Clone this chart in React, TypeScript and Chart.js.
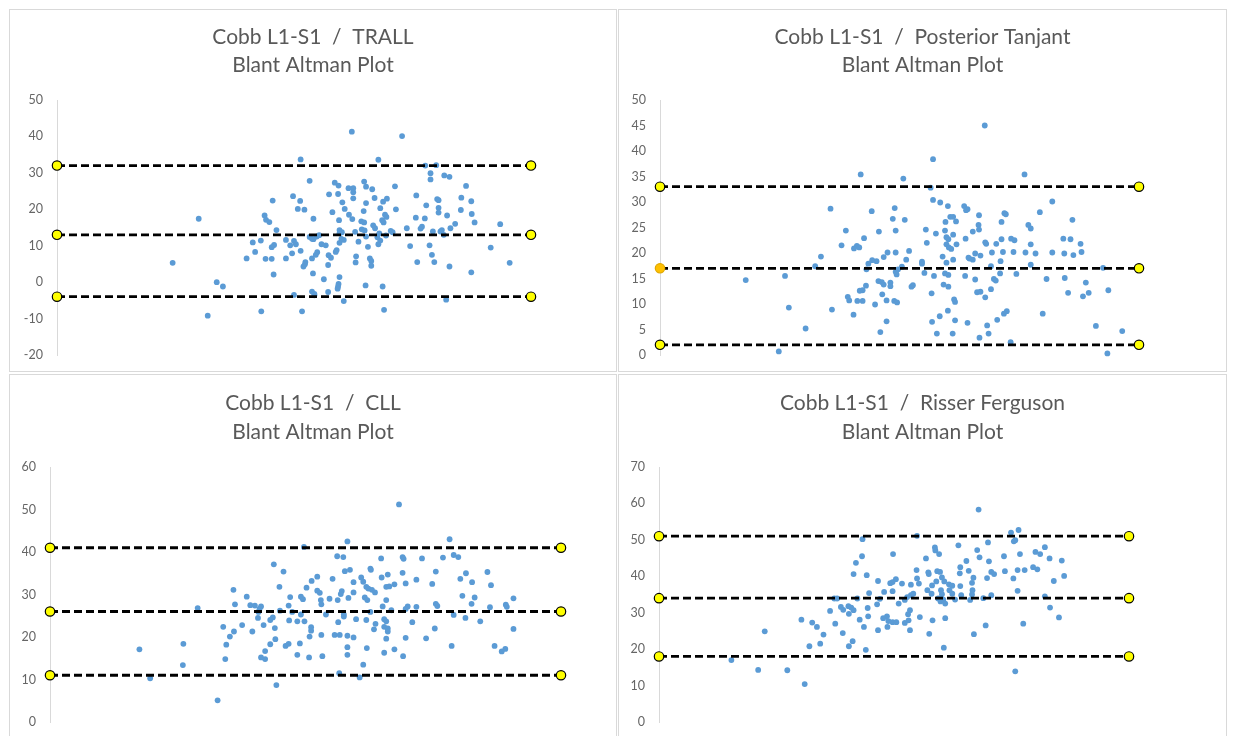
import React, { useEffect, useRef } from "react";
import { Chart, registerables } from "chart.js";

Chart.register(...registerables);

// ---------- DATA ----------
const trallPoints: [number, number][] = [
  [62.2,41.3],[72.8,40.1],[51.4,33.7],[67.8,33.6],[77.7,32.0],[80.0,32.1],[78.8,29.9],[78.8,28.2],[81.7,29.3],[82.8,28.9],
  [53.3,27.8],[58.6,27.3],[59.4,26.5],[64.8,27.6],[65.2,26.2],[61.5,25.8],[62.5,25.8],[62.5,24.7],[62.5,23.0],[66.5,25.5],
  [71.3,26.3],[86.3,26.4],[75.8,23.8],[49.8,23.6],[57.4,24.1],[59.3,24.2],[67.0,23.1],[69.6,22.9],[68.8,22.1],[80.2,22.8],
  [80.5,22.5],[85.3,23.2],[87.4,22.2],[45.5,22.4],[51.3,22.3],[60.2,21.9],[65.2,21.7],[77.9,21.1],[50.8,20.1],[52.2,19.9],
  [60.7,20.1],[64.7,19.5],[68.2,20.3],[71.5,20.0],[85.2,19.8],[80.5,20.4],[80.5,19.1],[58.1,19.2],[61.6,18.5],[43.8,18.3],
  [69.2,18.5],[69.5,17.9],[82.3,18.3],[87.5,18.7],[29.9,17.4],[44.1,17.1],[44.8,16.5],[54.1,17.4],[59.5,17.0],[62.3,17.3],
  [75.7,17.7],[77.6,17.5],[64.2,16.7],[64.8,16.4],[68.6,17.0],[68.9,16.4],[88.1,16.4],[93.5,15.9],[84.0,16.0],[66.7,15.6],
  [67.1,14.8],[73.8,14.8],[76.7,14.7],[77.0,15.2],[81.2,14.3],[80.9,13.9],[83.0,14.8],[46.3,14.3],[59.6,14.3],[60.1,13.7],
  [59.6,13.4],[64.3,14.5],[64.9,14.2],[70.4,14.1],[70.8,13.7],[62.9,13.8],[68.0,13.4],[79.3,13.9],[81.6,13.0],[69.4,12.8],
  [53.3,12.4],[54.1,11.8],[54.8,12.5],[53.8,11.9],[55.3,12.9],[65.2,12.5],[67.6,12.3],[68.2,11.4],[60.5,11.6],[59.6,10.8],
  [60.0,11.9],[48.3,11.6],[41.3,10.9],[43.0,11.4],[50.0,11.3],[50.4,10.4],[49.2,10.1],[67.8,10.4],[63.6,11.1],[56.7,10.1],
  [55.8,10.4],[45.8,10.2],[45.3,9.6],[78.6,10.1],[74.5,9.9],[65.6,9.7],[91.5,9.5],[41.8,8.3],[51.4,8.6],[49.6,7.9],
  [54.9,8.2],[54.6,7.5],[58.8,8.3],[59.0,8.8],[79.1,7.5],[53.8,6.5],[57.3,7.4],[57.8,6.7],[63.1,7.1],[66.0,6.5],
  [66.3,5.8],[40.0,6.5],[44.0,6.4],[45.3,6.4],[48.3,6.5],[79.6,5.5],[63.0,5.4],[76.0,5.5],[52.4,5.5],[52.3,4.9],
  [95.5,5.3],[24.4,5.3],[57.2,4.7],[66.3,4.5],[82.8,4.3],[52.0,4.3],[45.7,2.1],[54.0,2.4],[87.4,2.7],[59.6,1.4],
  [56.3,0.8],[33.7,0.0],[35.0,-1.2],[59.4,-0.5],[59.3,-1.2],[59.2,-1.8],[65.1,-0.9],[68.7,-1.2],[53.8,-2.6],[54.3,-3.2],
  [57.2,-2.7],[50.0,-3.5],[54.3,-3.6],[60.5,-5.2],[82.1,-4.8],[43.1,-8.0],[51.7,-8.0],[69.0,-7.6],[31.8,-9.2]
];

const tanjantPoints: [number, number][] = [
  [67.8,45.0],[57.0,38.4],[41.9,35.4],[76.1,35.4],[50.8,34.6],[56.5,32.8],[57.0,30.4],[58.5,29.9],[81.9,30.1],[35.6,28.7],
  [49.0,28.8],[44.2,28.2],[60.1,29.2],[63.5,29.2],[64.2,28.6],[63.9,28.4],[79.3,28.0],[71.9,27.8],[72.2,27.6],[66.6,27.4],
  [60.6,27.1],[61.2,27.1],[61.8,26.2],[59.6,26.1],[48.6,26.7],[51.1,26.5],[86.1,26.5],[71.3,26.1],[76.9,25.5],[77.4,24.8],
  [66.5,25.5],[66.6,24.6],[38.8,24.4],[45.7,24.2],[49.2,24.4],[55.5,24.6],[59.5,24.4],[65.3,24.2],[57.6,23.8],[61.2,23.6],
  [59.8,23.1],[60.2,22.7],[42.6,22.9],[63.8,22.8],[71.3,22.7],[73.3,22.8],[74.0,22.5],[84.2,22.8],[85.7,22.7],[67.9,22.1],
  [68.1,21.8],[37.9,21.5],[41.1,21.4],[41.6,21.1],[40.5,20.9],[55.7,22.0],[59.8,21.7],[60.3,21.1],[60.8,20.8],[61.9,21.7],
  [70.2,21.8],[77.4,21.7],[87.8,21.8],[47.5,20.1],[49.2,20.1],[52.0,20.4],[69.3,20.1],[71.6,20.2],[73.8,20.2],[76.3,20.1],
  [78.4,19.9],[81.9,20.1],[84.4,19.9],[86.3,19.6],[88.0,20.2],[33.6,19.3],[46.7,19.2],[59.0,19.3],[64.6,18.9],[65.3,18.7],
  [64.4,19.1],[65.8,19.9],[66.9,19.5],[44.3,18.6],[45.2,18.4],[51.4,18.7],[54.7,18.3],[54.7,17.9],[61.2,18.7],[71.1,18.4],
  [77.4,17.7],[43.5,17.9],[43.1,16.8],[32.4,17.4],[50.5,17.3],[49.7,16.8],[59.8,18.1],[69.1,17.4],[92.5,17.1],[49.2,16.3],
  [49.4,15.8],[74.4,15.9],[63.7,15.5],[57.2,15.5],[55.2,16.1],[59.5,16.0],[60.2,15.7],[71.0,16.0],[26.1,15.5],[17.9,14.7],
  [65.8,14.8],[69.7,14.9],[70.1,14.6],[80.7,14.9],[84.5,15.1],[45.6,14.5],[46.3,14.3],[46.7,13.8],[48.1,14.2],[48.1,13.5],
  [88.9,14.2],[43.0,13.6],[42.3,12.7],[41.7,12.6],[52.5,13.4],[52.8,13.7],[59.2,13.8],[60.2,13.4],[93.6,12.7],[89.5,12.2],
  [66.2,12.3],[66.9,12.4],[69.1,12.9],[85.2,12.2],[56.7,12.1],[46.4,11.9],[39.2,11.4],[39.5,10.7],[41.2,10.6],[42.3,10.6],
  [47.3,10.7],[48.9,10.6],[49.5,10.3],[67.9,11.3],[88.3,11.5],[44.9,9.9],[61.4,10.9],[61.6,10.4],[26.9,9.3],[35.9,8.9],
  [60.1,8.7],[72.4,8.6],[71.8,8.1],[79.9,8.1],[40.4,7.9],[58.4,7.6],[70.4,6.9],[47.3,6.6],[56.8,6.5],[61.6,6.8],
  [64.2,6.3],[68.3,5.8],[91.0,5.7],[30.4,5.2],[96.5,4.7],[46.0,4.5],[57.8,4.2],[61.1,4.2],[68.6,4.2],[66.7,3.4],
  [73.2,2.5],[24.8,0.7],[93.4,0.3]
];

const cllPoints: [number, number][] = [
  [68.3,51.2],[78.2,43.0],[58.2,42.5],[49.7,41.2],[56.2,39.0],[57.4,38.8],[64.8,38.5],[69.0,38.8],[69.2,38.4],[72.8,38.5],
  [76.9,38.7],[79.0,39.3],[79.9,38.8],[43.8,37.1],[62.7,36.1],[62.8,35.8],[45.7,35.4],[57.7,35.5],[58.7,35.8],[69.0,35.1],
  [75.5,35.4],[81.4,35.0],[85.6,35.3],[66.1,34.7],[52.3,34.2],[60.9,34.0],[55.3,33.7],[80.3,33.7],[64.9,34.0],[51.2,33.2],
  [59.4,32.9],[61.3,33.0],[71.7,33.5],[69.6,32.6],[82.6,32.9],[74.8,32.5],[67.4,32.4],[66.4,31.9],[65.8,31.8],[86.3,32.2],
  [61.9,31.8],[62.3,31.4],[50.2,31.6],[44.9,31.8],[35.9,31.1],[63.0,31.1],[63.6,30.5],[52.3,30.9],[52.8,30.4],[57.1,30.8],
  [56.9,30.1],[59.4,30.5],[38.5,29.5],[47.0,29.4],[49.1,29.5],[49.5,28.9],[61.6,29.3],[62.1,28.7],[80.7,29.7],[83.1,29.3],
  [90.7,29.1],[53.0,28.7],[54.7,29.0],[56.3,28.7],[58.4,29.2],[65.8,28.7],[36.2,27.7],[39.2,27.5],[40.1,27.4],[41.3,27.2],
  [41.0,26.6],[46.7,27.4],[53.1,27.7],[75.5,27.8],[75.8,27.3],[70.0,27.2],[69.6,26.6],[71.7,27.1],[82.5,27.8],[86.1,27.0],
  [89.2,27.6],[89.4,27.1],[65.1,27.2],[28.9,26.8],[40.8,25.9],[45.0,26.2],[47.4,25.9],[49.1,25.3],[66.8,26.3],[57.5,25.3],
  [57.5,24.8],[62.7,25.9],[79.0,25.2],[54.0,25.3],[40.7,24.5],[43.6,24.6],[43.1,24.0],[61.9,24.0],[65.4,24.2],[65.8,23.7],
  [59.9,24.2],[81.3,24.5],[46.8,23.9],[48.4,23.7],[49.8,23.7],[70.9,23.5],[84.2,23.7],[56.4,23.5],[41.8,22.8],[37.6,22.8],
  [44.0,22.1],[33.9,22.4],[63.7,23.1],[65.4,22.4],[66.1,22.0],[66.1,21.3],[51.1,22.3],[51.1,21.5],[75.3,22.0],[90.7,21.9],
  [63.4,21.8],[36.0,21.3],[39.6,21.3],[53.1,20.5],[55.7,20.5],[56.7,20.5],[58.2,20.3],[50.8,20.1],[59.4,19.9],[35.2,20.1],
  [69.6,19.8],[73.6,19.7],[65.8,19.6],[44.1,19.5],[26.1,18.4],[34.5,18.2],[43.1,18.3],[48.9,18.5],[46.7,18.4],[46.1,17.9],
  [78.6,17.9],[87.0,17.9],[58.2,17.6],[62.0,17.4],[17.5,17.1],[67.4,17.1],[89.1,17.2],[88.4,16.6],[42.1,16.7],[65.4,16.3],
  [48.4,15.8],[53.3,15.5],[58.2,15.8],[69.1,15.5],[50.7,15.2],[41.3,15.2],[42.1,14.8],[34.3,14.8],[61.3,13.5],[26.0,13.4],
  [56.6,11.5],[60.6,10.5],[19.6,10.3],[44.3,8.7],[32.8,5.1]
];

const risserPoints: [number, number][] = [
  [68.0,58.3],[76.5,52.7],[74.9,52.0],[75.8,49.9],[75.5,49.6],[54.9,51.1],[43.3,50.2],[70.0,49.3],[63.7,48.5],[67.7,47.2],
  [58.7,47.9],[58.8,47.1],[82.1,48.0],[80.1,46.7],[81.1,46.1],[83.1,44.9],[49.8,46.1],[59.6,46.1],[76.8,46.1],[43.2,45.5],
  [73.4,45.5],[68.2,45.2],[56.8,44.9],[85.7,44.3],[65.4,44.2],[70.2,44.1],[41.9,43.7],[64.1,42.5],[79.6,42.5],[80.5,41.9],
  [77.8,41.7],[76.3,41.7],[65.9,41.5],[54.8,41.7],[57.3,41.1],[57.4,40.6],[59.2,41.4],[59.8,41.2],[73.6,41.4],[64.0,40.8],
  [70.7,41.2],[71.3,40.6],[41.4,40.6],[86.2,40.1],[75.4,39.4],[69.8,39.5],[66.9,39.6],[44.2,40.3],[54.9,39.4],[60.2,39.7],
  [60.7,38.6],[50.4,39.2],[46.6,38.7],[84.0,38.7],[59.0,38.6],[66.6,38.2],[49.2,38.1],[49.7,38.4],[51.7,38.0],[53.6,37.7],
  [55.3,38.0],[61.7,37.8],[62.4,37.4],[58.1,37.5],[64.1,37.3],[47.9,35.7],[44.7,35.4],[49.7,35.9],[76.3,36.0],[54.1,35.2],
  [53.6,34.8],[57.1,36.2],[58.0,35.2],[60.0,36.2],[60.2,35.1],[61.8,36.2],[62.4,35.2],[66.7,36.2],[66.6,35.0],[70.7,34.8],
  [64.3,34.8],[69.0,34.0],[82.1,34.5],[37.3,33.9],[37.9,33.9],[42.2,33.9],[47.0,33.8],[52.8,34.3],[52.3,33.5],[59.4,33.9],
  [59.9,33.1],[60.5,33.6],[60.9,32.5],[63.0,33.6],[66.2,33.5],[46.4,32.3],[51.0,32.5],[38.7,31.6],[39.2,30.8],[40.3,31.8],
  [40.9,31.4],[41.4,30.7],[40.4,29.7],[44.4,31.3],[36.4,30.5],[53.4,30.7],[53.0,29.6],[83.2,31.4],[55.5,28.8],[48.5,29.0],
  [47.7,28.5],[44.5,29.0],[42.7,28.1],[60.9,28.5],[85.1,28.7],[30.3,28.1],[48.8,27.7],[49.7,27.4],[50.5,27.4],[52.3,27.2],
  [53.1,27.9],[58.2,27.9],[32.6,27.3],[33.6,26.1],[37.5,27.0],[77.5,27.0],[69.5,26.5],[48.6,26.1],[43.6,26.1],[35.0,24.0],
  [22.5,24.9],[39.1,24.4],[46.6,25.2],[53.4,25.2],[57.5,24.2],[67.0,24.1],[41.2,22.2],[34.3,21.5],[32.0,20.8],[40.4,20.8],
  [44.0,19.8],[60.6,20.4],[15.4,17.0],[21.1,14.3],[27.3,14.2],[75.8,13.9],[31.0,10.4]
];

// limits of agreement: upper, mean, lower
const trallLimits = [32, 13, -4];
const tanjantLimits = [33, 17, 2];
const cllLimits = [41, 26, 11];
const risserLimits = [51, 34, 18];

// y-axis ranges: [min, max, step]
const trallAxis = [-20, 50, 10];
const tanjantAxis = [0, 50, 5];
const cllAxis = [0, 60, 10];
const risserAxis = [0, 70, 10];

const titles = [
  "Cobb L1-S1  /  TRALL",
  "Cobb L1-S1  /  Posterior Tanjant",
  "Cobb L1-S1  /  CLL",
  "Cobb L1-S1  /  Risser Ferguson",
];
const subtitle = "Blant Altman Plot";
const lineStart = 0;
const lineEnd = 100;

// ---------- LAYOUT (page pixels) ----------
type Spec = {
  title: string;
  points: [number, number][];
  limits: number[];
  axis: number[];
  box: { left: number; top: number; width: number; height: number };
  axisX: number;
  chartTop: number;
  chartBottom: number;
  lineEndX: number;
  titleY: number;
  accent?: number;
};

const specs: Spec[] = [
  { title: titles[0], points: trallPoints, limits: trallLimits, axis: trallAxis,
    box: { left: 9, top: 9, width: 608, height: 363 }, axisX: 57, chartTop: 100, chartBottom: 355, lineEndX: 531, titleY: 37 },
  { title: titles[1], points: tanjantPoints, limits: tanjantLimits, axis: tanjantAxis,
    box: { left: 618, top: 9, width: 609, height: 363 }, axisX: 660, chartTop: 100, chartBottom: 355, lineEndX: 1139, titleY: 37, accent: 1 },
  { title: titles[2], points: cllPoints, limits: cllLimits, axis: cllAxis,
    box: { left: 9, top: 374, width: 608, height: 400 }, axisX: 50, chartTop: 467, chartBottom: 722, lineEndX: 561, titleY: 403.5 },
  { title: titles[3], points: risserPoints, limits: risserLimits, axis: risserAxis,
    box: { left: 618, top: 374, width: 609, height: 400 }, axisX: 659, chartTop: 467, chartBottom: 722, lineEndX: 1129, titleY: 403.5 },
];

const FONT = "Lato, 'Open Sans', sans-serif";
const CANVAS_H = 420;

function Panel({ spec }: { spec: Spec }) {
  const ref = useRef<HTMLCanvasElement>(null);
  const canvasLeft = spec.box.left + 1;
  const canvasTop = spec.box.top + 1;
  const W = spec.box.width - 2;
  const H = CANVAS_H;

  useEffect(() => {
    if (!ref.current) return;
    const side = 12;
    const axisW = spec.axisX - canvasLeft - side;
    const chartRight = canvasLeft + W - side;
    const xMax = lineStart + (lineEnd - lineStart) * (chartRight - spec.axisX) / (spec.lineEndX - spec.axisX);
    const lineH = 28.5;
    const titleTopPad = spec.titleY - canvasTop - lineH / 2;
    const titleBottomPad = spec.chartTop - canvasTop - titleTopPad - 2 * lineH;
    const bottomPad = canvasTop + H - spec.chartBottom;

    const limitSets = spec.limits.map((v, i) => {
      const leftColor = spec.accent === i ? "#FFC000" : "#FFFF00";
      const leftBorder = spec.accent === i ? "#E0A800" : "#000000";
      return {
        type: "line" as const,
        data: [{ x: lineStart, y: v }, { x: lineEnd, y: v }],
        borderColor: "#000000",
        borderWidth: 2.8,
        borderDash: [8, 4],
        pointRadius: 4.7,
        pointBackgroundColor: [leftColor, "#FFFF00"],
        pointBorderColor: [leftBorder, "#000000"],
        pointBorderWidth: 1.2,
        showLine: true,
        fill: false,
        clip: false as any,
        order: 0,
      };
    });

    const chart = new Chart(ref.current, {
      type: "scatter",
      data: {
        datasets: [
          {
            type: "scatter",
            data: spec.points.map(([x, y]) => ({ x, y })),
            backgroundColor: "#5B9BD5",
            borderColor: "#5B9BD5",
            pointRadius: 2.9,
            pointBorderWidth: 0,
            clip: false as any,
            order: 1,
          } as any,
          ...(limitSets as any[]),
        ],
      },
      options: {
        animation: false,
        responsive: false,
        events: [],
        layout: { padding: { left: side, right: side, top: 0, bottom: bottomPad } },
        plugins: {
          legend: { display: false },
          tooltip: { enabled: false },
          title: {
            display: true,
            text: [spec.title, subtitle],
            color: "#595959",
            font: { family: FONT, size: 21, weight: "normal", lineHeight: lineH / 21 },
            padding: { top: titleTopPad, bottom: titleBottomPad },
          },
        },
        scales: {
          x: {
            type: "linear",
            display: false,
            min: lineStart,
            max: xMax,
          },
          y: {
            type: "linear",
            min: spec.axis[0],
            max: spec.axis[1],
            afterFit: (s: any) => { s.width = axisW; },
            grid: { display: false, drawTicks: false },
            border: { display: true, color: "#D9D9D9", width: 1 },
            ticks: {
              stepSize: spec.axis[2],
              padding: 14,
              color: "#666666",
              font: { family: FONT, size: 12.5 },
            },
          },
        },
      } as any,
    });
    return () => chart.destroy();
  }, []);

  return (
    <div
      style={{
        position: "absolute",
        left: spec.box.left,
        top: spec.box.top,
        width: spec.box.width,
        height: spec.box.height,
        border: "1px solid #D9D9D9",
        boxSizing: "border-box",
        background: "#FFFFFF",
        overflow: "hidden",
      }}
    >
      <canvas ref={ref} width={W} height={H} style={{ position: "absolute", left: 0, top: 0, width: W, height: H }} />
    </div>
  );
}

export default function App() {
  return (
    <div
      style={{
        position: "absolute",
        left: 0,
        top: 0,
        width: 1233,
        height: 736,
        overflow: "hidden",
        background: "#FFFFFF",
      }}
    >
      {specs.map((s, i) => (
        <Panel key={i} spec={s} />
      ))}
    </div>
  );
}
